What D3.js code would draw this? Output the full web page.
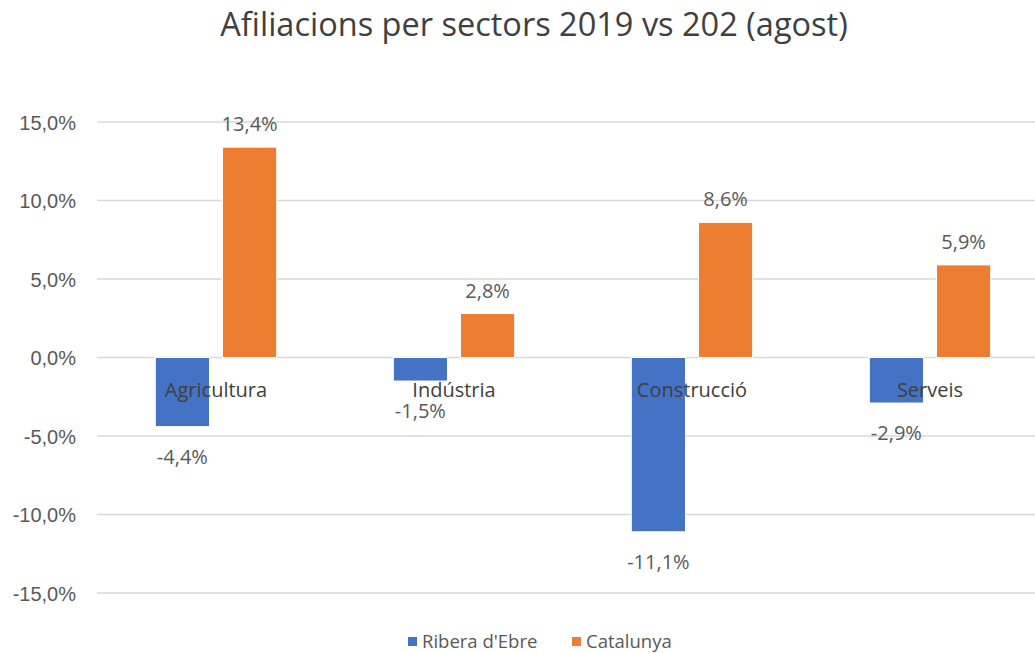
<!DOCTYPE html>
<html>
<head>
    <meta charset="utf-8">
    <style>
        body {
            margin: 0;
            background: #fff;
        }

        svg {
            font-family: 'Open Sans', 'Noto Sans', sans-serif;
            fill: #595959;
        }

        .title {
            font-size: 32.5px;
            fill: #404040;
        }

        .grid line {
            stroke: #d9d9d9;
            stroke-width: 1.5px;
        }

        .y .tick text {
            font-size: 20px;
            fill: #595959;
        }

        .y .domain, .y .tick line {
            display: none;
        }

        .val, .cat {
            font-size: 20px;
            fill: #595959;
        }

        .cat {
            fill: #404040;
        }

        .legend text {
            font-size: 18.5px;
            fill: #595959;
        }
    </style>
</head>

<body>
    <svg width="1035" height="653"></svg>

<script src="https://d3js.org/d3.v7.min.js"></script>
<script>
    // data
    let sectors = ["Agricultura", "Indústria", "Construcció", "Serveis"]
    let seriesNames = ["Ribera d'Ebre", "Catalunya"]
    let ribera = [-4.4, -1.5, -11.1, -2.9]
    let catalunya = [13.4, 2.8, 8.6, 5.9]
    let yTicks = [-15, -10, -5, 0, 5, 10, 15]
    let colors = ["#4472C4", "#ED7D31"]

    let svg = d3.select("svg")

    let rows = sectors.map((s, i) => ({ sector: s, values: [ribera[i], catalunya[i]] }))

    let x0 = d3.scaleBand()
        .domain(sectors)
        .range([97, 1049])
        .paddingInner(0.49)
        .paddingOuter(0.245)

    let x1 = d3.scaleBand()
        .domain(seriesNames)
        .range([0, x0.bandwidth()])
        .paddingInner(0.194)

    let y = d3.scaleLinear()
        .domain([-15, 15])
        .range([593, 122])

    let fmt = v => d3.format(".1f")(v).replace(".", ",").replace("−", "-") + "%"

    svg.append("text")
        .attr("class", "title")
        .attr("x", 534)
        .attr("y", 36)
        .attr("text-anchor", "middle")
        .text("Afiliacions per sectors 2019 vs 202 (agost)")

    // gridlines
    svg.append("g")
        .attr("class", "grid")
        .selectAll("line")
        .data(yTicks)
        .join("line")
        .attr("x1", 97)
        .attr("x2", 1035)
        .attr("y1", d => y(d))
        .attr("y2", d => y(d))

    let yAxis = d3.axisLeft(y)
        .tickValues(yTicks)
        .tickSize(0)
        .tickPadding(0)
        .tickFormat(fmt)

    svg.append("g")
        .attr("class", "y axis")
        .attr("transform", "translate(76,0)")
        .call(yAxis)
        .selectAll("text")
        .attr("dy", "0.35em")

    let groups = svg.append("g")
        .selectAll("g")
        .data(rows)
        .join("g")
        .attr("transform", d => `translate(${x0(d.sector)},0)`)

    let bars = groups.selectAll("g")
        .data(d => d.values.map((v, j) => ({ name: seriesNames[j], v: v, j: j })))
        .join("g")

    bars.append("rect")
        .attr("x", d => x1(d.name))
        .attr("width", x1.bandwidth())
        .attr("y", d => y(Math.max(0, d.v)))
        .attr("height", d => Math.abs(y(d.v) - y(0)))
        .attr("fill", (d) => colors[d.j])
        .attr("stroke", "#fff")
        .attr("stroke-width", 1)

    bars.append("text")
        .attr("class", "val")
        .attr("x", d => x1(d.name) + x1.bandwidth() / 2)
        .attr("y", d => d.v >= 0 ? y(d.v) - 16 : y(d.v) + 37)
        .attr("text-anchor", "middle")
        .text(d => fmt(d.v))

    // category labels sit just under the zero line
    groups.append("text")
        .attr("class", "cat")
        .attr("x", x0.bandwidth() / 2)
        .attr("y", y(0) + 39)
        .attr("text-anchor", "middle")
        .text(d => d.sector)

    let legend = svg.append("g")
        .attr("class", "legend")
    let legX = [408, 572]
    seriesNames.forEach((n, i) => {
        legend.append("rect")
            .attr("x", legX[i])
            .attr("y", 637)
            .attr("width", 9)
            .attr("height", 9)
            .attr("fill", colors[i])
        legend.append("text")
            .attr("x", legX[i] + 14)
            .attr("y", 648)
            .text(n)
    })
</script>
</body>
</html>
